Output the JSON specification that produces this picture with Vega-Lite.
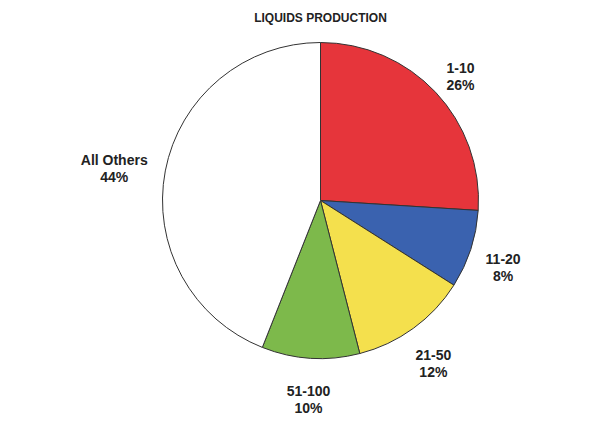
{
  "$schema": "https://vega.github.io/schema/vega-lite/v6.json",
  "autosize": {"type": "fit", "contains": "padding"},
  "width": 591,
  "height": 431,
  "padding": {"left": 60, "right": 10, "top": 12, "bottom": 40},
  "background": "white",
  "title": {"text": "LIQUIDS PRODUCTION", "font": "Liberation Sans", "fontSize": 12, "fontWeight": "bold", "color": "#222222", "anchor": "middle", "offset": 4},
  "data": {"values": [
    {"group": "1-10", "share": 26, "ord": 1, "label": "1-10\n26%"},
    {"group": "11-20", "share": 8, "ord": 2, "label": "11-20\n8%"},
    {"group": "21-50", "share": 12, "ord": 3, "label": "21-50\n12%"},
    {"group": "51-100", "share": 10, "ord": 4, "label": "51-100\n10%"},
    {"group": "All Others", "share": 44, "ord": 5, "label": "All Others\n44%"}
  ]},
  "encoding": {
    "theta": {"field": "share", "type": "quantitative", "stack": true},
    "order": {"field": "ord", "type": "quantitative"}
  },
  "layer": [
    {
      "mark": {"type": "arc", "outerRadius": 158, "stroke": "#333333", "strokeWidth": 1},
      "encoding": {
        "color": {"field": "group", "type": "nominal", "legend": null,
          "scale": {"domain": ["1-10", "11-20", "21-50", "51-100", "All Others"],
                    "range": ["#E6353B", "#3A62AF", "#F4E04D", "#7DB94B", "#FFFFFF"]}}
      }
    },
    {
      "mark": {"type": "text", "radius": 192, "font": "Liberation Sans", "fontSize": 14, "fontWeight": "bold", "fill": "#222222", "lineBreak": "\n", "lineHeight": 17, "align": "center", "baseline": "middle"},
      "encoding": {
        "text": {"field": "label", "type": "nominal"},
        "opacity": {"condition": {"test": "datum.ord < 5", "value": 1}, "value": 0}
      }
    },
    {
      "mark": {"type": "text", "radius": 210, "font": "Liberation Sans", "fontSize": 14, "fontWeight": "bold", "fill": "#222222", "lineBreak": "\n", "lineHeight": 17, "align": "center", "baseline": "middle"},
      "encoding": {
        "text": {"field": "label", "type": "nominal"},
        "opacity": {"condition": {"test": "datum.ord == 5", "value": 1}, "value": 0}
      }
    }
  ]
}
